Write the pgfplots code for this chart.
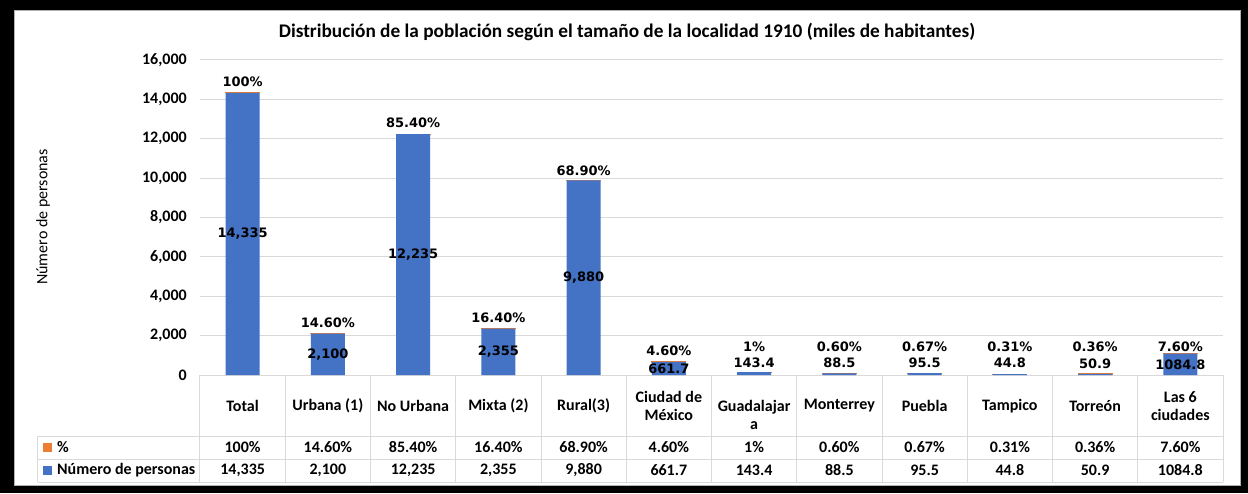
\documentclass[border=0pt]{standalone}
\usepackage{pgfplots}
\pgfplotsset{compat=1.18}
\usepackage{pgfplotstable}
\usepackage{fontspec}
\setmainfont{Carlito}
\newfontfamily\djv{DejaVu Sans}
\definecolor{xblue}{HTML}{4472C4}
\definecolor{xorange}{HTML}{ED7D31}
\definecolor{xgrid}{HTML}{D9D9D9}

% n = Numero de personas (miles), f = % as fraction (Excel)
\pgfplotstableread{
x n f
0 14335 1.00
1 2100 0.146
2 12235 0.854
3 2355 0.164
4 9880 0.689
5 661.7 0.046
6 143.4 0.01
7 88.5 0.006
8 95.5 0.0067
9 44.8 0.0031
10 50.9 0.0036
11 1084.8 0.076
}\datatab

% label positions
\pgfplotstableread{
x ly lab oy olab
0 7167.5 14,335 14895 100
1 1050 2,100 2660 14.60
2 6117.5 12,235 12795 85.40
3 1177.5 2,355 2915 16.40
4 4940 9,880 10350 68.90
5 300 661.7 1250 4.60
6 610 143.4 1420 1
7 610 88.5 1420 0.60
8 600 95.5 1420 0.67
9 640 44.8 1420 0.31
10 570 50.9 1420 0.36
11 500 1084.8 1420 7.60
}\labtab

\newcommand\lblfont{\djv\bfseries\fontsize{13}{15}\selectfont}
\newcommand\tabfont{\bfseries\fontsize{16}{18}\selectfont}

\begin{document}
\begin{tikzpicture}[x=1pt,y=1pt]
\fill[black] (-200,-118) rectangle (1048,375);
\filldraw[fill=white, draw=gray!60] (-186,-110) rectangle (1040,365);

\pgfplotsset{myax/.style={at={(0,0)}, anchor=south west, scale only axis,
  width=1023pt, height=315pt, xmin=-0.5, xmax=11.5, ymin=0, ymax=16000}}

\begin{axis}[myax, ybar stacked, bar width=34pt,
  axis line style={draw=none},
  ymajorgrids, grid style={xgrid, line width=1pt},
  ytick={0,2000,...,16000}, xtick=\empty, major tick length=0pt,
  scaled y ticks=false,
  yticklabel style={font=\tabfont, anchor=east, inner sep=0pt, xshift=-13pt,
    /pgf/number format/1000 sep={,}},
  /pgf/number format/assume math mode=true]
\addplot[fill=xblue, draw=none] table[x=x,y=n]{\datatab};
\addplot[fill=xorange, draw=xorange, line width=1.2pt] table[x=x,y=f]{\datatab};
\end{axis}

\begin{axis}[myax, hide axis, clip=false]
\addplot[only marks, mark=*, mark size=0pt, mark options={draw=none,fill=none},
  point meta=explicit symbolic, nodes near coords,
  every node near coord/.append style={font=\lblfont, anchor=center, inner sep=0pt, text=black}]
  table[x=x, y=ly, meta=lab]{\labtab};
\addplot[only marks, mark=*, mark size=0pt, mark options={draw=none,fill=none},
  point meta=explicit symbolic, nodes near coords={\pgfplotspointmeta\%},
  every node near coord/.append style={font=\lblfont, anchor=center, inner sep=0pt, text=black}]
  table[x=x, y=oy, meta=olab]{\labtab};
\end{axis}

% data table grid
\begin{scope}[xgrid, line width=1pt]
\draw (-162,-61) -- (1023,-61);
\draw (-162,-84) -- (1023,-84);
\draw (-162,-107) -- (1023,-107);
\draw (-162,-61) -- (-162,-107);
\foreach \k in {0,...,12} \draw ({\k*85.25},0) -- ({\k*85.25},-107);
\end{scope}

\foreach \i/\t/\yy in {0/Total/-31, 1/Urbana (1)/-31, 2/No Urbana/-31, 3/Mixta (2)/-31,
  4/Rural(3)/-31, 5/Ciudad de\\México/-31, 6/Guadalajar\\a/-40, 7/Monterrey/-31,
  8/Puebla/-31, 9/Tampico/-31, 10/Torreón/-31, 11/Las 6\\ciudades/-31}
  \node[font=\tabfont, align=center, inner sep=0pt] at ({(\i+0.5)*85.25},\yy) {\t};

\foreach \i/\p/\n in {0/100\%/{14,335}, 1/14.60\%/{2,100}, 2/85.40\%/{12,235}, 3/16.40\%/{2,355},
  4/68.90\%/{9,880}, 5/4.60\%/661.7, 6/1\%/143.4, 7/0.60\%/88.5, 8/0.67\%/95.5,
  9/0.31\%/44.8, 10/0.36\%/50.9, 11/7.60\%/1084.8}{
  \node[font=\tabfont, inner sep=0pt] at ({(\i+0.5)*85.25},-72) {\p};
  \node[font=\tabfont, inner sep=0pt] at ({(\i+0.5)*85.25},-95) {\n};
}

% legend keys
\fill[xorange] (-157,-76.5) rectangle (-148,-67.5);
\node[font=\tabfont, anchor=west, inner sep=0pt] at (-143,-72) {\%};
\fill[xblue] (-157,-99.5) rectangle (-148,-90.5);
\node[font=\tabfont, anchor=west, inner sep=0pt] at (-143,-95) {Número de personas};

% titles
\node[font=\bfseries\fontsize{19.3}{22}\selectfont] at (427,343)
  {Distribución de la población según el tamaño de la localidad 1910 (miles de habitantes)};
\node[rotate=90, font=\fontsize{16}{19}\selectfont] at (-157,158) {Número de personas};
\end{tikzpicture}
\end{document}
